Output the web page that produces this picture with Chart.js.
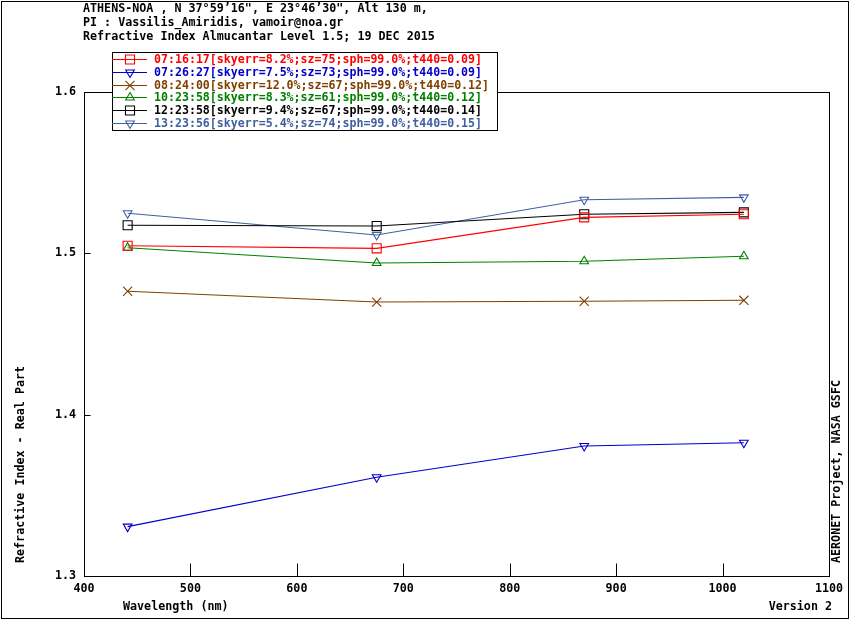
<!DOCTYPE html>
<html>
<head>
<meta charset="utf-8">
<script src="https://cdn.jsdelivr.net/npm/chart.js@4.4.1/dist/chart.umd.min.js"></script>
<style>
html,body{margin:0;padding:0;background:#fff;}
#wrap{width:850px;height:620px;}
</style>
</head>
<body>
<div id="wrap"><canvas id="c" width="850" height="620"></canvas></div>
<script>
// ---- data ----
const wavelengths = [441, 675, 870, 1020];
const seriesLabels = [
  "07:16:17[skyerr=8.2%;sz=75;sph=99.0%;t440=0.09]",
  "07:26:27[skyerr=7.5%;sz=73;sph=99.0%;t440=0.09]",
  "08:24:00[skyerr=12.0%;sz=67;sph=99.0%;t440=0.12]",
  "10:23:58[skyerr=8.3%;sz=61;sph=99.0%;t440=0.12]",
  "12:23:58[skyerr=9.4%;sz=67;sph=99.0%;t440=0.14]",
  "13:23:56[skyerr=5.4%;sz=74;sph=99.0%;t440=0.15]"
];
const ri0716 = [1.5047, 1.5031, 1.5223, 1.5242];
const ri0726 = [1.3306, 1.3612, 1.3806, 1.3826];
const ri0824 = [1.4765, 1.4698, 1.4703, 1.4709];
const ri1023 = [1.5035, 1.4940, 1.4951, 1.4982];
const ri1223 = [1.5174, 1.5169, 1.5242, 1.5254];
const ri1323 = [1.5248, 1.5114, 1.5332, 1.5347];
const xTicks = [400, 500, 600, 700, 800, 900, 1000, 1100];
const yTicks = [1.3, 1.4, 1.5, 1.6];
const headerLines = [
  "ATHENS-NOA , N 37\u00b059\u201916\", E 23\u00b046\u201930\", Alt 130 m,",
  "PI : Vassilis_Amiridis, vamoir@noa.gr",
  "Refractive Index Almucantar Level 1.5; 19 DEC 2015"
];
const xTitle = "Wavelength (nm)";
const yTitle = "Refractive Index - Real Part";
const rightNote = "AERONET Project, NASA GSFC";
const versionNote = "Version 2";

// ---- styles ----
const FONT = "bold 11.7px 'DejaVu Sans Mono', 'Liberation Mono', monospace";
const LEGEND_FONT = "bold 11.6px 'DejaVu Sans Mono', 'Liberation Mono', monospace";
const styles = [
  {color: '#ff0000', style: 'rect', rot: 0, r: 6.4},
  {color: '#0000c8', style: 'triangle', rot: 180, r: 5},
  {color: '#804000', style: 'crossRot', rot: 0, r: 6.4},
  {color: '#008000', style: 'triangle', rot: 0, r: 5},
  {color: '#000000', style: 'rect', rot: 0, r: 6.4},
  {color: '#4060a0', style: 'triangle', rot: 180, r: 5}
];
const values = [ri0716, ri0726, ri0824, ri1023, ri1223, ri1323];

const datasets = values.map((vals, i) => ({
  label: seriesLabels[i],
  data: wavelengths.map((w, j) => ({x: w, y: vals[j]})),
  borderColor: styles[i].color,
  borderWidth: 1.1,
  pointStyle: styles[i].style,
  pointRotation: styles[i].rot,
  pointRadius: styles[i].r,
  pointHoverRadius: styles[i].r,
  pointBorderColor: styles[i].color,
  pointBackgroundColor: 'rgba(0,0,0,0)',
  pointBorderWidth: 1.1,
  tension: 0,
  fill: false
}));

const decor = {
  id: 'decor',
  afterDraw(chart) {
    const ctx = chart.ctx;
    const a = chart.chartArea;
    const xs = chart.scales.x, ys = chart.scales.y;
    ctx.save();
    ctx.strokeStyle = '#000';
    ctx.lineWidth = 1;
    // outer frame
    ctx.strokeRect(1.5, 1.5, 847, 617);
    // plot frame
    const L = Math.round(a.left) + 0.5, R = Math.round(a.right) + 0.5;
    const T = Math.round(a.top) + 0.5, B = Math.round(a.bottom) + 0.5;
    ctx.strokeRect(L, T, R - L, B - T);
    // inward ticks
    ctx.beginPath();
    xTicks.forEach(v => {
      const px = Math.round(xs.getPixelForValue(v)) + 0.5;
      ctx.moveTo(px, B); ctx.lineTo(px, B - 13);
    });
    yTicks.forEach(v => {
      const py = Math.round(ys.getPixelForValue(v)) + 0.5;
      ctx.moveTo(L, py); ctx.lineTo(L + 6, py);
    });
    ctx.stroke();

    ctx.font = FONT;
    ctx.fillStyle = '#000';
    ctx.textBaseline = 'middle';
    ctx.textAlign = 'left';
    // header
    headerLines.forEach((t, i) => ctx.fillText(t, 83, 9 + i * 13.9));
    // x title and version
    ctx.fillText(xTitle, 123, 607);
    ctx.textAlign = 'right';
    ctx.fillText(versionNote, 832, 607);
    // y title (rotated)
    ctx.save();
    ctx.translate(21, 563);
    ctx.rotate(-Math.PI / 2);
    ctx.textAlign = 'left';
    ctx.fillText(yTitle, 0, 0);
    ctx.restore();
    // right note
    ctx.save();
    ctx.translate(837, 563);
    ctx.rotate(-Math.PI / 2);
    ctx.textAlign = 'left';
    ctx.fillText(rightNote, 0, 0);
    ctx.restore();

    // legend
    const lx = 112.5, ly = 52.5, lw = 385, lh = 78;
    ctx.fillStyle = '#fff';
    ctx.fillRect(lx, ly, lw, lh);
    ctx.strokeStyle = '#000';
    ctx.strokeRect(lx, ly, lw, lh);
    ctx.font = LEGEND_FONT;
    chart.data.datasets.forEach((ds, i) => {
      const cy = Math.round(59 + i * 12.8) + 0.5;
      ctx.strokeStyle = ds.borderColor;
      ctx.lineWidth = 1.1;
      ctx.beginPath();
      ctx.moveTo(112, cy); ctx.lineTo(147, cy);
      ctx.stroke();
      ctx.fillStyle = 'rgba(0,0,0,0)';
      Chart.helpers.drawPoint(ctx, {
        pointStyle: ds.pointStyle, rotation: ds.pointRotation,
        radius: ds.pointRadius, borderWidth: 1.1
      }, 130, cy);
      ctx.fillStyle = ds.borderColor;
      ctx.textAlign = 'left';
      ctx.textBaseline = 'middle';
      ctx.fillText(ds.label, 154, cy + 0.5);
    });
    ctx.restore();
  }
};

new Chart(document.getElementById('c'), {
  type: 'line',
  data: {datasets},
  options: {
    responsive: false,
    animation: false,
    devicePixelRatio: 1,
    layout: {padding: {top: 92, right: 21, left: 0, bottom: 0}},
    plugins: {legend: {display: false}, tooltip: {enabled: false}},
    scales: {
      x: {
        type: 'linear', min: 400, max: 1100,
        afterBuildTicks: s => { s.ticks = xTicks.map(v => ({value: v})); },
        afterFit: s => { s.height = 44; },
        grid: {display: false, drawTicks: false},
        border: {display: false},
        ticks: {font: {family: "'DejaVu Sans Mono'", size: 11.7, weight: 'bold'}, color: '#000', padding: 6, maxRotation: 0, autoSkip: false,
                callback: v => String(v)}
      },
      y: {
        type: 'linear', min: 1.3, max: 1.6,
        afterBuildTicks: s => { s.ticks = yTicks.map(v => ({value: v})); },
        afterFit: s => { s.width = 84; },
        grid: {display: false, drawTicks: false},
        border: {display: false},
        ticks: {font: {family: "'DejaVu Sans Mono'", size: 11.7, weight: 'bold'}, color: '#000', padding: 8,
                callback: v => Number(v).toFixed(1)}
      }
    }
  },
  plugins: [decor]
});
</script>
</body>
</html>
